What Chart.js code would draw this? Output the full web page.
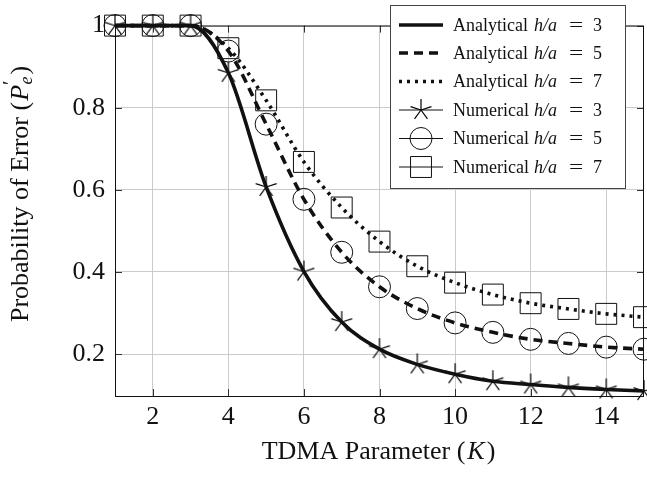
<!DOCTYPE html>
<html>
<head>
<meta charset="utf-8">
<script src="https://cdn.jsdelivr.net/npm/chart.js@4"></script>
<style>
  html, body { margin: 0; padding: 0; background: #fff; }
  #wrap { width: 647px; height: 477px; }
</style>
</head>
<body>
<div id="wrap"><canvas id="grafico" width="647" height="477"></canvas></div>
<script>
// TDMA parameter K and error probability for each h/a ratio
const kValues = [1, 2, 3, 4, 5, 6, 7, 8, 9, 10, 11, 12, 13, 14, 15];
const pe3 = [1, 1, 1, 0.885, 0.607, 0.401, 0.278, 0.212, 0.175, 0.151, 0.134, 0.126, 0.119, 0.114, 0.110];
const pe5 = [1, 1, 1, 0.938, 0.760, 0.577, 0.448, 0.364, 0.311, 0.276, 0.253, 0.236, 0.226, 0.217, 0.212];
const pe7 = [1, 1, 1, 0.945, 0.818, 0.668, 0.557, 0.474, 0.414, 0.374, 0.345, 0.324, 0.310, 0.298, 0.290];
const xTicks = [2, 4, 6, 8, 10, 12, 14];
const yTicks = [0.2, 0.4, 0.6, 0.8, 1];
const ratios = [3, 5, 7];

const SERIF = '"Liberation Serif", "Times New Roman", serif';
const INK = '#111';

function pts(ys) {
    return kValues.map((k, i) => ({ x: k, y: ys[i] }));
}

// five-armed star marker like pgfplots
function makeStar(r) {
    const c = document.createElement('canvas');
    const s = Math.ceil(r * 2 + 2);
    c.width = s; c.height = s;
    const g = c.getContext('2d');
    g.strokeStyle = '#000';
    g.lineWidth = 1.2;
    g.beginPath();
    for (let i = 0; i < 5; i++) {
        const a = -Math.PI / 2 + i * 2 * Math.PI / 5;
        g.moveTo(s / 2, s / 2);
        g.lineTo(s / 2 + r * Math.cos(a), s / 2 + r * Math.sin(a));
    }
    g.stroke();
    return c;
}
const starImg = makeStar(11);

const lineStyles = [[], [9, 6], [3, 5]];
const markStyles = [starImg, 'circle', 'rect'];
const markRadius = [11, 11, 14.8];

function analytical(ys, dash) {
    return {
        data: pts(ys),
        showLine: true,
        borderColor: INK,
        borderWidth: 3.6,
        borderDash: dash,
        pointRadius: 0,
        cubicInterpolationMode: 'monotone',
        fill: false,
        clip: false
    };
}
function numerical(ys, style, r) {
    return {
        data: pts(ys),
        showLine: false,
        pointStyle: style,
        pointRadius: r,
        pointBorderColor: INK,
        pointBackgroundColor: 'rgba(0,0,0,0)',
        pointBorderWidth: 1,
        clip: false
    };
}

function drawRich(ctx, parts, x, y, size) {
    let total = 0;
    parts.forEach(p => {
        ctx.font = (p.italic ? 'italic ' : '') + Math.round(size * (p.scale || 1)) + 'px ' + SERIF;
        p.w = ctx.measureText(p.t).width + (p.gap || 0);
        total += p.w;
    });
    let cx = x - total / 2;
    parts.forEach(p => {
        ctx.font = (p.italic ? 'italic ' : '') + Math.round(size * (p.scale || 1)) + 'px ' + SERIF;
        ctx.fillText(p.t, cx + (p.dx || 0), y + (p.dy || 0));
        cx += p.w;
    });
}

const decor = {
    id: 'decor',
    beforeDatasetsDraw(chart) {
        const ctx = chart.ctx;
        const a = chart.chartArea;
        const xs = chart.scales.x, ys = chart.scales.y;
        ctx.save();
        ctx.strokeStyle = '#333';
        ctx.lineWidth = 1;
        ctx.beginPath();
        xTicks.forEach(t => {
            const px = Math.round(xs.getPixelForValue(t)) + 0.5;
            ctx.moveTo(px, a.bottom); ctx.lineTo(px, a.bottom - 7);
            ctx.moveTo(px, a.top); ctx.lineTo(px, a.top + 7);
        });
        yTicks.forEach(t => {
            const py = Math.round(ys.getPixelForValue(t)) + 0.5;
            ctx.moveTo(a.left, py); ctx.lineTo(a.left + 7, py);
            ctx.moveTo(a.right, py); ctx.lineTo(a.right - 7, py);
        });
        ctx.stroke();
        ctx.strokeStyle = INK;
        ctx.strokeRect(a.left + 0.5, a.top + 0.5, a.right - a.left - 1, a.bottom - a.top);
        ctx.restore();
    },
    afterDraw(chart) {
        const ctx = chart.ctx;
        const a = chart.chartArea;
        ctx.save();
        ctx.fillStyle = INK;
        ctx.textBaseline = 'middle';
        // axis titles
        drawRich(ctx, [{ t: 'TDMA Parameter (', gap: 2 }, { t: 'K', italic: true, gap: 2 }, { t: ')' }],
            (a.left + a.right) / 2 - 1, 452, 26);
        ctx.save();
        ctx.translate(21, 194);
        ctx.rotate(-Math.PI / 2);
        drawRich(ctx, [{ t: 'Probability of Error (', gap: 1 }, { t: 'P', italic: true },
            { t: '\u2032', scale: 0.75, dy: -9, dx: 0, gap: -4 }, { t: 'e', italic: true, scale: 0.7, dy: 6, gap: 2 }, { t: ')' }],
            0, 0, 26);
        ctx.restore();

        // legend
        const bx = 390, by = 5, bw = 235, bh = 183;
        ctx.fillStyle = '#fff';
        ctx.fillRect(bx, by, bw, bh);
        ctx.strokeStyle = '#444';
        ctx.lineWidth = 1;
        ctx.strokeRect(bx + 0.5, by + 0.5, bw, bh);
        const rows = [25, 53, 81.5, 110, 138.5, 167];
        for (let i = 0; i < 6; i++) {
            const y = rows[i];
            const j = i % 3;
            ctx.strokeStyle = INK;
            ctx.beginPath();
            if (i < 3) {
                ctx.lineWidth = 3.6;
                ctx.setLineDash(lineStyles[j]);
            } else {
                ctx.lineWidth = 1;
                ctx.setLineDash([]);
            }
            ctx.moveTo(399, y); ctx.lineTo(443, y);
            ctx.stroke();
            ctx.setLineDash([]);
            if (i >= 3) {
                ctx.lineWidth = 1;
                ctx.fillStyle = 'rgba(0,0,0,0)';
                Chart.helpers.drawPoint(ctx, { pointStyle: markStyles[j], radius: markRadius[j], borderWidth: 1 }, 421, y);
            }
            ctx.fillStyle = INK;
            ctx.textAlign = 'left';
            ctx.font = '18px ' + SERIF;
            ctx.fillText(i < 3 ? 'Analytical' : 'Numerical', 453, y + 1);
            ctx.font = 'italic 18px ' + SERIF;
            ctx.fillText('h/a', 534, y + 1);
            ctx.font = '18px ' + SERIF;
            ctx.save();
            ctx.translate(569, y + 1);
            ctx.scale(1.4, 1);
            ctx.fillText('=', 0, 0);
            ctx.restore();
            ctx.fillText(String(ratios[j]), 593, y + 1);
        }
        ctx.restore();
    }
};

const ctx = document.getElementById('grafico').getContext('2d');
new Chart(ctx, {
    type: 'scatter',
    data: {
        datasets: [
            analytical(pe3, lineStyles[0]),
            analytical(pe5, lineStyles[1]),
            analytical(pe7, lineStyles[2]),
            numerical(pe3, markStyles[0], markRadius[0]),
            numerical(pe5, markStyles[1], markRadius[1]),
            numerical(pe7, markStyles[2], markRadius[2])
        ]
    },
    options: {
        responsive: false,
        animation: false,
        layout: { autoPadding: false, padding: { left: 0, right: 3, top: 17, bottom: 0 } },
        plugins: { legend: { display: false }, tooltip: { enabled: false } },
        scales: {
            x: {
                type: 'linear',
                min: 1, max: 15,
                afterBuildTicks: s => { s.ticks = xTicks.map(v => ({ value: v })); },
                afterFit: s => { s.height = 81; s.paddingLeft = 0; s.paddingRight = 0; },
                grid: { color: '#cbcbcb', drawTicks: false },
                border: { display: false },
                ticks: { padding: 6, color: INK, font: { family: SERIF, size: 26 }, maxRotation: 0 }
            },
            y: {
                type: 'linear',
                min: 0.098, max: 1,
                afterBuildTicks: s => { s.ticks = yTicks.map(v => ({ value: v })); },
                afterFit: s => { s.width = 115; },
                grid: { color: '#cbcbcb', drawTicks: false },
                border: { display: false },
                ticks: {
                    padding: 10, color: INK, font: { family: SERIF, size: 26 },
                    callback: v => String(+v.toFixed(1))
                }
            }
        }
    },
    plugins: [decor]
});
</script>
</body>
</html>
